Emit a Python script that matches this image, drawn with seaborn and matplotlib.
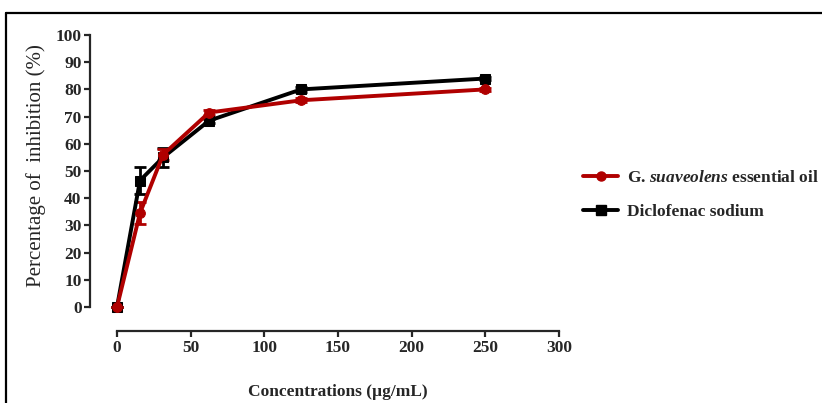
import matplotlib
matplotlib.use("Agg")
import matplotlib.pyplot as plt
import seaborn as sns
import pandas as pd
from matplotlib.lines import Line2D

conc = [0, 15.6, 31.25, 62.5, 125, 250]
oil_mean = [0, 34.5, 56, 71.5, 76, 80]
oil_err = [0, 4, 2, 0.8, 0.8, 0.6]
diclo_mean = [0, 46.5, 55, 68.5, 80, 84]
diclo_err = [0, 5, 3.5, 0.8, 0.8, 0.6]

red = "#B00000"
black = "#000000"

sns.set_style("ticks")
plt.rcParams["font.family"] = ["Liberation Serif", "DejaVu Serif"]
plt.rcParams["mathtext.fontset"] = "custom"
plt.rcParams["mathtext.it"] = "Liberation Serif:italic:bold"
plt.rcParams["mathtext.rm"] = "Liberation Serif:bold"

fig = plt.figure(figsize=(8.22, 4.03), dpi=100)
ax = fig.add_axes([117 / 822, 1 - 307 / 403, 442 / 822, 272 / 403])

df = pd.DataFrame({
    "conc": conc * 2,
    "value": diclo_mean + oil_mean,
    "series": ["Diclofenac sodium"] * 6 + ["oil"] * 6,
})

# error bars first
ax.errorbar(conc, diclo_mean, yerr=diclo_err, fmt="none", ecolor=black,
            elinewidth=2, capsize=4, capthick=2, clip_on=False, zorder=2)
ax.errorbar(conc, oil_mean, yerr=oil_err, fmt="none", ecolor=red,
            elinewidth=2, capsize=4, capthick=2, clip_on=False, zorder=3)

sns.lineplot(data=df[df.series == "Diclofenac sodium"], x="conc", y="value",
             color=black, marker="s", markersize=7, linewidth=2.8,
             markeredgecolor=black, ax=ax, clip_on=False, zorder=4)
sns.lineplot(data=df[df.series == "oil"], x="conc", y="value",
             color=red, marker="o", markersize=7, linewidth=2.8,
             markeredgecolor=red, ax=ax, clip_on=False, zorder=5)

ax.set_xlim(0, 300)
ax.set_ylim(0, 100)
ax.set_xticks(range(0, 301, 50))
ax.set_yticks(range(0, 101, 10))
sns.despine(ax=ax)
ax.spines["left"].set_position(("outward", 19.5))
ax.spines["bottom"].set_position(("outward", 17.5))
for s in ["left", "bottom"]:
    ax.spines[s].set_linewidth(1.6)
ax.tick_params(width=1.6, length=4, labelsize=12.5, pad=2)
for lbl in ax.get_xticklabels() + ax.get_yticklabels():
    lbl.set_fontweight("bold")

ax.set_xlabel("")
ax.set_ylabel("")
fig.text(338 / 822, 1 - 392 / 403, "Concentrations (µg/mL)", ha="center",
         va="center", fontsize=12.5, fontweight="bold")
fig.text(36 / 822, 1 - 166 / 403, "Percentage of  inhibition (%)", ha="center",
         va="center", rotation=90, fontsize=15)

handles = [
    Line2D([], [], color=red, marker="o", markersize=6.5, linewidth=2.8),
    Line2D([], [], color=black, marker="s", markersize=6.5, linewidth=2.8),
]
labels = ["G. $\\it{suaveolens}$ essential oil", "Diclofenac sodium"]
leg = fig.legend(handles, labels, loc="center left",
                 bbox_to_anchor=(578 / 822, 1 - 195 / 403), frameon=False,
                 handlelength=2.0, handletextpad=0.5, labelspacing=1.0,
                 borderaxespad=0, borderpad=0.3,
                 prop={"weight": "bold", "size": 12.5})

# outer frame lines
fig.add_artist(Line2D([6 / 822, 6 / 822], [0, 1 - 13 / 403], color="black",
                      linewidth=1.6, transform=fig.transFigure))
fig.add_artist(Line2D([6 / 822, 1], [1 - 13 / 403, 1 - 13 / 403], color="black",
                      linewidth=1.6, transform=fig.transFigure))

fig.savefig("out.png", dpi=100)
